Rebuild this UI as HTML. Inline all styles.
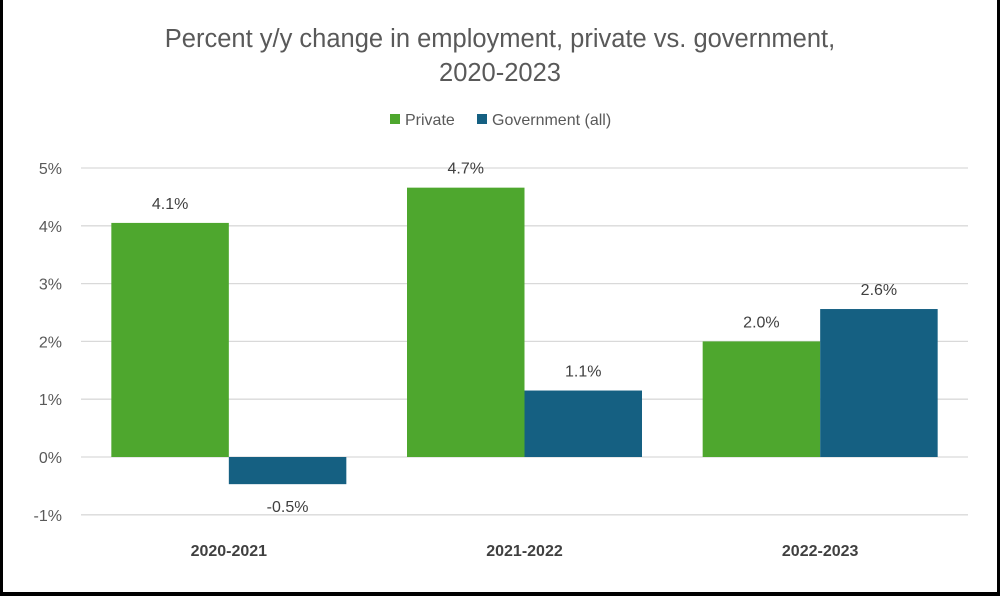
<!DOCTYPE html>
<html><head><meta charset="utf-8"><style>
html,body{margin:0;padding:0;background:#000;}
#frame{position:absolute;left:3px;top:0;width:994px;height:592px;background:#fff;}
svg{position:absolute;left:0;top:0;font-family:"Liberation Sans",sans-serif;}
</style></head><body>
<div id="frame"></div>
<svg id="chart" width="1000" height="596">
<text x="500" y="47" text-anchor="middle" font-size="25.5" fill="#595959">Percent y/y change in employment, private vs. government,</text>
<text x="500" y="81" text-anchor="middle" font-size="25.5" fill="#595959">2020-2023</text>
<g>
<rect x="390" y="114" width="10" height="10" fill="#4ea72e"/>
<text x="405" y="125" font-size="16" fill="#595959">Private</text>
<rect x="477" y="114" width="10" height="10" fill="#156082"/>
<text x="492" y="125" font-size="16" fill="#595959">Government (all)</text>
</g>
<g id="grid"></g><g id="bars"></g><g id="labels"></g>
</svg>
<script>
const categories = ["2020-2021","2021-2022","2022-2023"];
const privateVals = [4.05, 4.66, 2.0];
const govVals = [-0.47, 1.15, 2.56];
const privateLabels = ["4.1%","4.7%","2.0%"];
const govLabels = ["-0.5%","1.1%","2.6%"];
const ticks = [-1,0,1,2,3,4,5];
const tickLabels = ["-1%","0%","1%","2%","3%","4%","5%"];
const ns="http://www.w3.org/2000/svg";
const x0=81,x1=968,yZero=457,pxPer=57.8;
const y=v=>yZero-v*pxPer;
const bw=(x1-x0)/categories.length;
const barW=117.5;
function mk(t,a,p){const e=document.createElementNS(ns,t);for(const k in a)e.setAttribute(k,a[k]);document.getElementById(p).appendChild(e);return e;}
ticks.forEach((t,i)=>{
  const l=mk('line',{x1:x0,x2:x1,y1:y(t),y2:y(t),stroke:'#d9d9d9','stroke-width':1.3},'grid');
  
  
  const tx=mk('text',{x:62,y:y(t)+6,'text-anchor':'end','font-size':16,fill:'#595959'},'grid');
  tx.textContent=tickLabels[i];
  
  
});
categories.forEach((c,i)=>{
  const cx=x0+bw*(i+0.5);
  [[privateVals[i],'#4ea72e',cx-barW,privateLabels[i],'private'],[govVals[i],'#156082',cx,govLabels[i],'government']].forEach(([v,col,bx,lab,s])=>{
    const top=Math.min(y(v),yZero),h=Math.abs(y(v)-yZero);
    const r=mk('rect',{x:bx,y:top,width:barW,height:h,fill:col},'bars');
    
    
    const ly=v>=0?y(v)-14:y(v)+28;
    const t=mk('text',{x:bx+barW/2,y:ly,'text-anchor':'middle','font-size':16,fill:'#404040'},'labels');
    t.textContent=lab;
    
    
  });
  const ct=mk('text',{x:cx,y:556,'text-anchor':'middle','font-size':16,'font-weight':'bold',fill:'#404040'},'labels');
  ct.textContent=c;
  
  
});
</script>
</body></html>
